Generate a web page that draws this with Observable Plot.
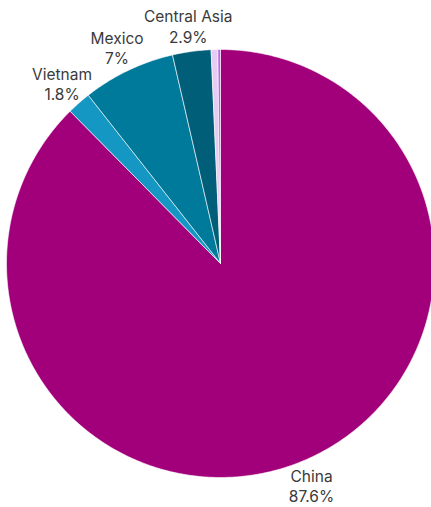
<!DOCTYPE html>
<html>
<head>
<meta charset="utf-8">
<script src="https://cdn.jsdelivr.net/npm/d3@7"></script>
<script src="https://cdn.jsdelivr.net/npm/@observablehq/plot@0.6"></script>
<style>
  html, body { margin: 0; padding: 0; background: #fff; overflow: hidden; }
  #chart { width: 431px; height: 507px; }
</style>
</head>
<body>
<div id="chart"></div>
<script>
const categories = ["China", "Vietnam", "Mexico", "Central Asia", "Other A", "Other B"];
const shares = [87.6, 1.8, 7.0, 2.9, 0.5, 0.2];
const labelText = ["87.6%", "1.8%", "7%", "2.9%", "", ""];
const showLabel = [true, true, true, true, false, false];
const colors = ["#A2007B", "#1597C4", "#007A9B", "#005E79", "#E6CCF2", "#B86BE2"];

const table = categories.map((c, i) => ({category: c, value: shares[i], label: labelText[i], show: showLabel[i]}));
const arcs = d3.pie().sort(null).value(d => d.value)(table);

// Build slice outlines in unit-circle data space (angle 0 at 12 o'clock, clockwise)
const slicePts = [];
arcs.forEach(a => {
  const n = Math.max(2, Math.ceil((a.endAngle - a.startAngle) / 0.01));
  slicePts.push({category: a.data.category, x: 0, y: 0});
  for (let k = 0; k <= n; k++) {
    const t = a.startAngle + (a.endAngle - a.startAngle) * k / n;
    slicePts.push({category: a.data.category, x: Math.sin(t), y: Math.cos(t)});
  }
  slicePts.push({category: a.data.category, x: 0, y: 0});
});

const labelR = 1.12;
const labels = arcs.filter(a => a.data.show).map(a => {
  const m = (a.startAngle + a.endAngle) / 2;
  return {text: a.data.category + "\n" + a.data.label, x: labelR * Math.sin(m), y: labelR * Math.cos(m)};
});

const chart = Plot.plot({
  width: 431,
  height: 507,
  margin: 0,
  style: {fontFamily: "Inter, 'Noto Sans', sans-serif", background: "#fff", overflow: "visible"},
  x: {domain: [-1, 1], range: [6, 434], axis: null},
  y: {domain: [-1, 1], range: [477, 49], axis: null},
  color: {domain: categories, range: colors},
  marks: [
    Plot.line(slicePts, {x: "x", y: "y", z: "category", fill: "category", stroke: "white", strokeWidth: 0.6, curve: "linear"}),
    Plot.text(labels, {x: "x", y: "y", text: "text", fontSize: 15.5, lineHeight: 1.3, fill: "#3a3a3a"})
  ]
});
document.getElementById("chart").appendChild(chart);
</script>
</body>
</html>
